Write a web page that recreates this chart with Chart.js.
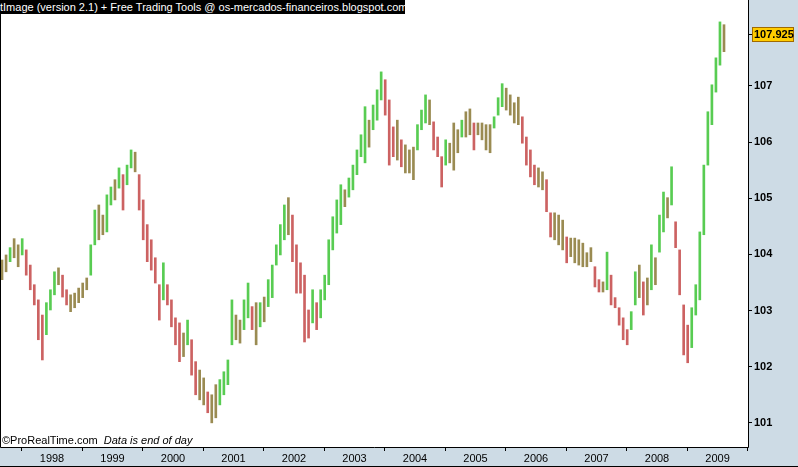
<!DOCTYPE html>
<html>
<head>
<meta charset="utf-8">
<script src="https://cdn.jsdelivr.net/npm/chart.js@4.4.1/dist/chart.umd.min.js"></script>
<style>
  html, body { margin: 0; padding: 0; background: #cddbe5; }
  #wrap { position: relative; width: 798px; height: 467px; overflow: hidden; }
  #title {
    position: absolute; left: 0; top: 0; width: 405px; height: 14px;
    background: #000; color: #fff; white-space: nowrap; overflow: hidden;
    font: 11px "Liberation Sans", Arial, sans-serif; line-height: 14px;
  }
  #credit {
    position: absolute; left: 2px; top: 434px; color: #000;
    font: 11px "Liberation Sans", Arial, sans-serif; white-space: nowrap;
  }
  #credit i { margin-left: 3px; }
</style>
</head>
<body>
<div id="wrap">
  <canvas id="priceChart" width="798" height="467"></canvas>
  <div id="title">tImage (version 2.1) + Free Trading Tools @ os-mercados-financeiros.blogspot.com</div>
  <div id="credit">©ProRealTime.com <i>Data is end of day</i></div>
</div>
<script>
// bars are two weeks apart on a decimal-year axis
const firstDate = 1997.174;
const barStep = 1 / 15;

const highs = [
  103.90, 103.99, 104.12, 104.28, 104.17, 104.28, 104.08, 103.81, 103.46, 103.19,
  102.92, 103.14, 103.37, 103.69, 103.76, 103.63, 103.37, 103.28, 103.31, 103.40,
  103.49, 103.58, 104.17, 104.79, 104.88, 104.70, 105.06, 105.20, 105.33, 105.54,
  105.42, 105.59, 105.86, 105.82, 105.42, 104.97, 104.53, 104.26, 103.94, 103.46,
  103.85, 103.46, 103.19, 102.87, 102.78, 102.60, 102.83, 102.48, 102.09, 101.94,
  101.80, 101.55, 101.50, 101.68, 101.77, 101.91, 102.12, 103.19, 102.92, 102.83,
  103.19, 103.49, 103.07, 103.14, 103.14, 103.24, 103.55, 103.81, 104.17, 104.53,
  104.88, 105.01, 104.70, 104.17, 103.85, 103.63, 103.01, 103.37, 103.14, 103.37,
  103.63, 104.26, 104.67, 104.97, 105.24, 105.15, 105.36, 105.59, 105.86, 106.13,
  106.63, 106.39, 106.66, 106.93, 107.25, 107.11, 106.75, 106.27, 106.39, 106.04,
  105.95, 105.86, 105.91, 106.31, 106.57, 106.84, 106.75, 106.36, 106.09, 105.74,
  106.04, 105.98, 106.34, 106.22, 106.39, 106.54, 106.59, 106.34, 106.34, 106.34,
  106.31, 106.31, 106.45, 106.79, 107.04, 106.96, 106.84, 106.70, 106.80, 106.45,
  106.09, 105.86, 105.59, 105.54, 105.47, 105.33, 104.74, 104.74, 104.70, 104.61,
  104.31, 104.29, 104.29, 104.26, 104.20, 104.03, 104.12, 103.78, 103.55, 103.51,
  104.04, 103.63, 103.23, 103.05, 102.87, 102.66, 102.98, 103.69, 103.81, 103.51,
  103.58, 104.17, 103.94, 104.70, 105.11, 105.01, 105.56, 104.58, 104.08, 103.10,
  102.74, 103.05, 103.46, 104.40, 105.59, 106.54, 107.02, 107.50, 108.14, 108.09
];

const lows = [
  103.55, 103.69, 103.87, 103.94, 103.78, 103.99, 103.63, 103.37, 103.10, 102.48,
  102.12, 102.57, 103.01, 103.28, 103.46, 103.24, 103.10, 102.98, 103.05, 103.14,
  103.23, 103.37, 103.63, 104.17, 104.26, 104.35, 104.40, 104.88, 104.97, 105.18,
  104.79, 105.24, 105.54, 105.47, 104.79, 104.26, 103.87, 103.72, 103.49, 102.83,
  103.19, 103.10, 102.71, 102.39, 102.09, 102.18, 102.39, 101.85, 101.50, 101.41,
  101.32, 101.18, 101.00, 101.09, 101.32, 101.50, 101.68, 102.39, 102.48, 102.42,
  102.66, 102.87, 102.66, 102.39, 102.71, 102.80, 103.07, 103.23, 103.81, 103.99,
  104.26, 104.35, 103.87, 103.31, 103.31, 102.44, 102.51, 102.78, 102.66, 102.87,
  103.19, 103.46, 104.08, 104.38, 104.53, 104.85, 105.02, 105.15, 105.42, 105.74,
  105.63, 105.91, 106.22, 106.39, 106.75, 106.48, 105.59, 105.74, 105.68, 105.56,
  105.45, 105.45, 105.33, 105.86, 106.22, 106.34, 106.31, 105.86, 105.74, 105.20,
  105.59, 105.63, 105.50, 105.81, 106.09, 106.09, 106.13, 105.86, 106.13, 106.04,
  105.86, 105.81, 106.25, 106.48, 106.63, 106.57, 106.48, 106.34, 106.31, 105.98,
  105.59, 105.38, 105.24, 105.20, 105.15, 104.76, 104.31, 104.26, 104.17, 104.08,
  103.85, 103.96, 103.85, 103.81, 103.78, 103.78, 103.87, 103.42, 103.33, 103.33,
  103.37, 103.10, 103.05, 102.74, 102.48, 102.39, 102.66, 103.10, 103.23, 102.92,
  103.10, 103.37, 103.46, 104.04, 104.40, 104.65, 104.88, 104.12, 103.28, 102.21,
  102.07, 102.34, 102.92, 103.19, 104.35, 105.59, 106.31, 106.89, 107.37, 107.61
];

const lastClose = 107.925;
const yearTicks = [1998, 1999, 2000, 2001, 2002, 2003, 2004, 2005, 2006, 2007, 2008, 2009];
const priceTicks = [101, 102, 103, 104, 105, 106, 107];

const UP = "#58cc52";
const DOWN = "#cc6262";
const FLAT = "#9a8b52";

const dates = highs.map((_, i) => firstDate + i * barStep);

// colour each bar by the move of its mid-point against the previous bar
const barColors = highs.map((h, i) => {
  if (i === 0) return FLAT;
  const mid = (h + lows[i]) / 2;
  const prev = (highs[i - 1] + lows[i - 1]) / 2;
  if (mid - prev > 0.15) return UP;
  if (mid - prev < -0.15) return DOWN;
  return FLAT;
});

const framePlugin = {
  id: "frame",
  beforeDraw(chart) {
    const { ctx, chartArea: a } = chart;
    ctx.save();
    ctx.fillStyle = "#cddbe5";
    ctx.fillRect(0, 0, chart.width, chart.height);
    ctx.fillStyle = "#ffffff";
    ctx.fillRect(a.left, a.top, a.right - a.left, a.bottom - a.top);
    ctx.restore();
  },
  afterDraw(chart) {
    const { ctx, chartArea: a } = chart;
    ctx.save();
    ctx.strokeStyle = "#000";
    ctx.lineWidth = 1;
    ctx.beginPath();
    ctx.moveTo(0.5, 0);
    ctx.lineTo(0.5, a.bottom + 0.5);
    ctx.lineTo(a.right + 0.5, a.bottom + 0.5);
    ctx.lineTo(a.right + 0.5, 0);
    ctx.moveTo(0, chart.height - 0.5);
    ctx.lineTo(chart.width, chart.height - 0.5);
    ctx.stroke();

    // current price label
    const y = Math.round(chart.scales.y.getPixelForValue(lastClose));
    ctx.beginPath();
    ctx.moveTo(a.right, y + 0.5);
    ctx.lineTo(a.right + 5, y + 0.5);
    ctx.stroke();
    ctx.fillStyle = "#ffcc00";
    ctx.fillRect(a.right + 4, y - 7, 42, 15);
    ctx.strokeStyle = "#a06a00";
    ctx.strokeRect(a.right + 4.5, y - 6.5, 41, 14);
    ctx.fillStyle = "#000";
    ctx.font = "bold 11px 'Liberation Sans', Arial, sans-serif";
    ctx.textBaseline = "middle";
    ctx.fillText(lastClose.toFixed(3), a.right + 6, y + 1);
    ctx.restore();
  }
};

window.onload = function () {
  const ctx = document.getElementById("priceChart").getContext("2d");
  new Chart(ctx, {
    type: "bar",
    data: {
      datasets: [
        {
          label: "Price",
          data: dates.map((d, i) => ({ x: d, y: [lows[i], highs[i]] })),
          backgroundColor: barColors,
          borderWidth: 0,
          barThickness: 2
        }
      ]
    },
    options: {
      responsive: false,
      animation: false,
      layout: { padding: { left: 1, top: 0, right: 0, bottom: 0 } },
      plugins: { legend: { display: false }, tooltip: { enabled: false } },
      scales: {
        x: {
          type: "linear",
          offset: false,
          min: 1997.157,
          max: 2009.504,
          afterBuildTicks: (s) => { s.ticks = yearTicks.map((v) => ({ value: v })); },
          afterFit: (s) => {
            s.height = 20;
            s.paddingLeft = 0;
            s.paddingRight = 0;
          },
          grid: { drawOnChartArea: false, drawTicks: true, tickLength: 4, color: "#000" },
          border: { display: false },
          ticks: {
            autoSkip: false,
            maxRotation: 0,
            padding: 1,
            color: "#000",
            font: { family: "'Liberation Sans', Arial, sans-serif", size: 11 },
            callback: (v) => String(v)
          }
        },
        y: {
          position: "right",
          min: 100.57,
          max: 108.53,
          afterBuildTicks: (s) => { s.ticks = priceTicks.map((v) => ({ value: v })); },
          afterFit: (s) => {
            s.width = 50;
            s.paddingTop = 0;
            s.paddingBottom = 0;
          },
          grid: { drawOnChartArea: false, drawTicks: true, tickLength: 4, color: "#000" },
          border: { display: false },
          ticks: {
            padding: 2,
            color: "#000",
            font: { family: "'Liberation Sans', Arial, sans-serif", size: 11, weight: "bold" },
            callback: (v) => String(v)
          }
        }
      }
    },
    plugins: [framePlugin]
  });
};
</script>
</body>
</html>
